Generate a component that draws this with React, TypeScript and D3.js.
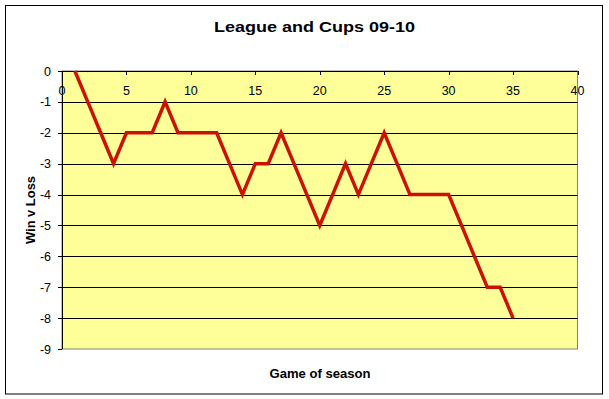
import React from "react";
import * as d3 from "d3";

const games = [1,2,3,4,5,6,7,8,9,10,11,12,13,14,15,16,17,18,19,20,21,22,23,24,25,26,27,28,29,30,31,32,33,34,35];
const winVLoss = [0,-1,-2,-3,-2,-2,-2,-1,-2,-2,-2,-2,-3,-4,-3,-3,-2,-3,-4,-5,-4,-3,-4,-3,-2,-3,-4,-4,-4,-4,-5,-6,-7,-7,-8];
const xTicks = [0,5,10,15,20,25,30,35,40];
const yTicks = [0,-1,-2,-3,-4,-5,-6,-7,-8,-9];
const title = "League and Cups 09-10";
const xTitle = "Game of season";
const yTitle = "Win v Loss";

export default function App() {
  const W = 609, H = 399;
  const left = 62, right = 577.5, top = 71, bottom = 349;
  const x = d3.scaleLinear().domain([0, 40]).range([left, right]);
  const y = d3.scaleLinear().domain([0, -9]).range([top, bottom]);
  const pts = games.map((g, i) => [g, winVLoss[i]] as [number, number]);
  const line = d3.line<[number, number]>().x(d => x(d[0])).y(d => y(d[1]));
  const font = "'Liberation Sans', Arial, sans-serif";
  return (
    <svg width={W} height={H} style={{ position: "absolute", left: 0, top: 0, background: "#fff" }} fontFamily={font}>
      <rect x={0} y={0} width={W} height={H} fill="#fff" />
      <rect x={5.5} y={5.5} width={597} height={388.5} fill="#fff" stroke="#000" strokeWidth={1} />
      <text x={314.5} y={32} textAnchor="middle" fontSize={15} fontWeight="bold" textLength={201} lengthAdjust="spacingAndGlyphs">{title}</text>
      <rect x={left} y={top} width={right - left} height={bottom - top} fill="#FFFF99" stroke="#808080" strokeWidth={1} />
      {yTicks.filter(v => v !== 0 && v !== -9).map(v => (
        <line key={"g" + v} x1={left} x2={right} y1={Math.round(y(v)) + 0.5} y2={Math.round(y(v)) + 0.5} stroke="#000" strokeWidth={1} />
      ))}
      <line x1={left} x2={right} y1={top + 0.5} y2={top + 0.5} stroke="#000" strokeWidth={1} />
      {xTicks.map(v => (
        <g key={"x" + v}>
          <line x1={Math.round(x(v)) + 0.5} x2={Math.round(x(v)) + 0.5} y1={top} y2={top + 4} stroke="#000" />
          <text x={x(v)} y={95} textAnchor="middle" fontSize={12.5}>{v}</text>
        </g>
      ))}
      <line x1={left + 0.5} x2={left + 0.5} y1={top} y2={bottom} stroke="#000" strokeWidth={1} />
      {yTicks.map(v => (
        <g key={"y" + v}>
          <line x1={left - 4} x2={left} y1={Math.round(y(v)) + 0.5} y2={Math.round(y(v)) + 0.5} stroke="#000" />
          <text x={51} y={y(v) + 4.5} textAnchor="end" fontSize={12.5}>{v}</text>
        </g>
      ))}
      <path d={line(pts) || ""} fill="none" stroke="#CC1100" strokeWidth={3.5} strokeLinejoin="miter" />
      <text x={320} y={378} textAnchor="middle" fontSize={13} fontWeight="bold" textLength={101} lengthAdjust="spacingAndGlyphs">{xTitle}</text>
      <text transform={`translate(35, ${(top + bottom) / 2}) rotate(-90)`} textAnchor="middle" fontSize={13} fontWeight="bold" textLength={68} lengthAdjust="spacingAndGlyphs">{yTitle}</text>
    </svg>
  );
}
